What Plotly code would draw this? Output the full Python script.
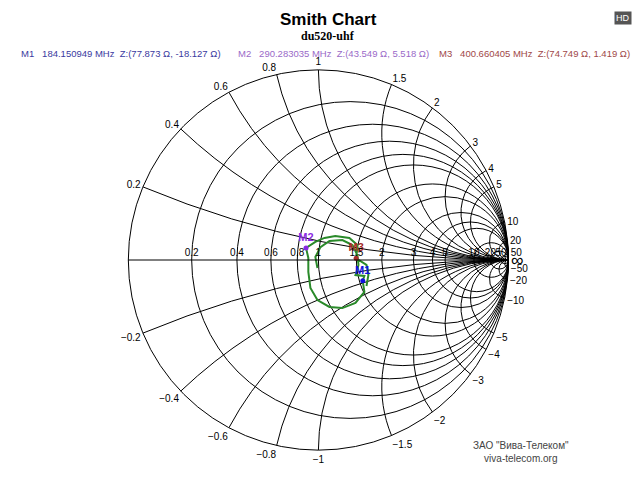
import numpy as np
import plotly.graph_objects as go

z0 = 50.0

# grid values (normalised)
real_vals = [0.2, 0.4, 0.6, 0.8, 1, 1.5, 2, 3, 4, 5, 10, 20, 50]
imag_vals = [0.2, 0.4, 0.6, 0.8, 1, 1.5, 2, 3, 4, 5, 10, 20, 50,
             -0.2, -0.4, -0.6, -0.8, -1, -1.5, -2, -3, -4, -5, -10, -20, -50]

gamma_re = [-0.005, -0.016, 0.011, 0.058, 0.126, 0.179, 0.205, 0.211, 0.195, 0.242, 0.233,
            0.242, 0.195, 0.126, 0.058, -0.005, -0.042, -0.053, -0.053, -0.065,
            -0.016, 0.032, 0.089, 0.163, 0.205, 0.198, 0.253, 0.263, 0.253]
gamma_im = [-0.042, 0.016, 0.068, 0.100, 0.105, 0.079, 0.026, -0.026, -0.079, -0.084, -0.109,
            -0.168, -0.226, -0.253, -0.247, -0.211, -0.147, -0.063, 0.011, 0.063,
            0.095, 0.116, 0.126, 0.116, 0.079, 0.009, -0.026, -0.079, -0.137]

# markers
marker_names = ['M1', 'M2', 'M3']
marker_freq = [184.150949, 290.283035, 400.660405]
marker_r = [77.873, 43.549, 74.749]
marker_x = [-18.127, 5.518, 1.419]
marker_colors = ['#1010e0', '#8a2be2', '#a52a2a']
header_colors = ['#3a3aa0', '#9a6ac8', '#a04848']

g = np.array(gamma_re) + 1j * np.array(gamma_im)
z = (1 + g) / (1 - g)

fig = go.Figure()
fig.add_trace(go.Scattersmith(real=z.real, imag=z.imag, mode='lines',
                              line=dict(color='#2a8a2a', width=2), showlegend=False))
for name, r, x, c in zip(marker_names, marker_r, marker_x, marker_colors):
    fig.add_trace(go.Scattersmith(real=[r / z0], imag=[x / z0], mode='markers+text',
                                  marker=dict(color=c, size=5), text=[f'<b>{name}</b>'],
                                  textposition='top center',
                                  textfont=dict(color=c, size=11, family='Arial'),
                                  showlegend=False))

fig.update_layout(
    width=640, height=480, margin=dict(l=0, r=0, t=0, b=0),
    paper_bgcolor='white',
    smith=dict(
        domain=dict(x=[0.188, 0.782], y=[0.079, 0.871]),
        bgcolor='white',
        realaxis=dict(tickvals=real_vals, gridcolor='black', linecolor='black', tickangle=0,
                      tickfont=dict(size=10, color='black', family='Arial')),
        imaginaryaxis=dict(tickvals=imag_vals, gridcolor='black', linecolor='black',
                           tickfont=dict(size=10, color='black', family='Arial')),
    ),
    font=dict(family='Arial'),
)

def note(text, x, y, **kw):
    fig.add_annotation(text=text, x=x, y=1 - y / 480, xref='paper', yref='paper',
                       yanchor='middle', showarrow=False, **kw)

note('<b>Smith Chart</b>', 0.5, 11, font=dict(size=17, family='Arial', color='black'))
note('<b>du520-uhf</b>', 0.5, 28, font=dict(size=12, family='Liberation Serif', color='black'))
header_x = [0.017, 0.356, 0.670]
for name, f, r, x, c, hx in zip(marker_names, marker_freq, marker_r, marker_x, header_colors, header_x):
    note(f'{name}&nbsp;&nbsp;&nbsp;{f:.6f} MHz&nbsp;&nbsp;Z:({r:.3f} Ω, {x:.3f} Ω)', hx, 45,
         xanchor='left', font=dict(size=9.5, family='Arial', color=c))
note('HD', 0.975, 10, bgcolor='#555555', font=dict(size=9, color='white'))
note('ЗАО "Вива-Телеком"<br>viva-telecom.org', 0.88, 444,
     font=dict(size=10, family='Arial', color='#444444'))

fig.write_html("out.html")
